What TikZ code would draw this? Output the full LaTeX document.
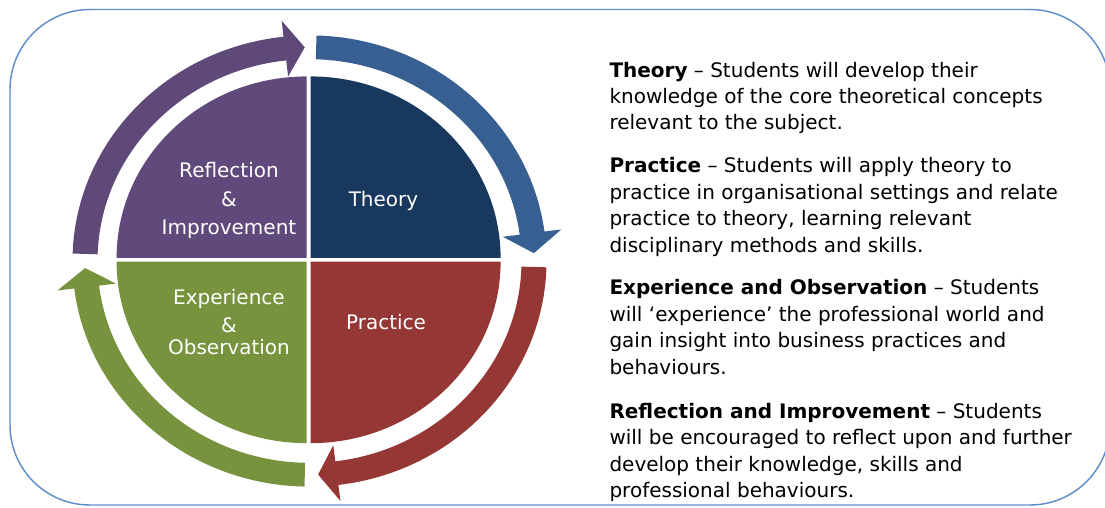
\documentclass[tikz,border=0pt]{standalone}
\usepackage{fontspec}
\setmainfont{DejaVu Sans}

\tikzset{every picture/.style={line width=0.75pt}}
\tikzset{
  theoryfill/.style={fill={rgb, 255:red, 24; green, 56; blue, 94 }},
  practicefill/.style={fill={rgb, 255:red, 149; green, 55; blue, 53 }},
  experiencefill/.style={fill={rgb, 255:red, 119; green, 147; blue, 61 }},
  reflectionfill/.style={fill={rgb, 255:red, 96; green, 74; blue, 123 }},
  theoryarrow/.style={fill={rgb, 255:red, 55; green, 95; blue, 145 }},
  reflectionarrow/.style={fill={rgb, 255:red, 94; green, 73; blue, 121 }},
  pielabel/.style={text=white, align=center, inner sep=0.75pt, font=\fontsize{15}{21.5}\selectfont},
  desc/.style={anchor=north west, align=left, inner sep=0.75pt, font=\fontsize{15}{19.8}\selectfont},
}

\begin{document}
\begin{tikzpicture}[x=0.75pt,y=0.75pt,yscale=-1,xscale=1]
\useasboundingbox (0,0) rectangle (1105,507);

%Shape: Rounded Rect [frame]
\draw [color={rgb, 255:red, 96; green, 142; blue, 204 }, line width=1.1pt, rounded corners=60pt] (10,9.5) rectangle (1110,505) ;

%Shape: Quarter discs
\begin{scope}[shift={(308.6,259.8)}, yscale=-0.955]
\fill [theoryfill] (2,2) -- (192,2) arc [start angle=0, end angle=90, radius=190] -- cycle ;
\fill [practicefill] (2,-2) -- (2,-192) arc [start angle=-90, end angle=0, radius=190] -- cycle ;
\fill [experiencefill] (-2,-2) -- (-192,-2) arc [start angle=180, end angle=270, radius=190] -- cycle ;
\fill [reflectionfill] (-2,2) -- (-2,192) arc [start angle=90, end angle=180, radius=190] -- cycle ;
\end{scope}

%Shape: Ring arrows
\begin{scope}[shift={(309.5,261)}, yscale=-0.952]
%Arrow: top right
\fill [theoryarrow] (88.3:212) arc [start angle=88.3, end angle=7.5, radius=212] -- (7.5:195) -- (2.1:224.5) -- (7.5:254) -- (7.5:237) arc [start angle=7.5, end angle=88.3, radius=237] -- cycle ;
%Arrow: bottom right
\fill [practicefill] (-1.6:212) arc [start angle=-1.6, end angle=-83, radius=212] -- (-83:195) -- (-87.8:224.5) -- (-83:254) -- (-83:237) arc [start angle=-83, end angle=-1.6, radius=237] -- cycle ;
%Arrow: bottom left
\fill [experiencefill] (-91.2:212) arc [start angle=-91.2, end angle=-173, radius=212] -- (-173:195) -- (-178.1:224.5) -- (-173:254) -- (-173:237) arc [start angle=-173, end angle=-91.2, radius=237] -- cycle ;
%Arrow: top left
\fill [reflectionarrow] (178.1:212) arc [start angle=178.1, end angle=96.3, radius=212] -- (96.3:195) -- (91.2:224.5) -- (96.3:254) -- (96.3:237) arc [start angle=96.3, end angle=178.1, radius=237] -- cycle ;
\end{scope}

% Text Node
\draw (383.5,206) node [pielabel, anchor=base] (thy) {Theory};
% Text Node
\draw (386,329.5) node [pielabel, anchor=base] (prc) {Practice};
% Text Node
\draw (229,200.7) node [pielabel] (rfl) {Reflection\\\&\\Improvement};
% Text Node
\draw (229,322) node [pielabel, font=\fontsize{15}{21}\selectfont] (exp) {Experience\\\&\\[-5pt]Observation};

% Text Node
\draw (608,60.5) node [desc] (thydesc) {\textbf{Theory} – Students will develop their\\knowledge of the core theoretical concepts\\relevant to the subject.};
% Text Node
\draw (608,156.1) node [desc] (prcdesc) {\textbf{Practice} – Students will apply theory to\\practice in organisational settings and relate\\practice to theory, learning relevant\\disciplinary methods and skills.};
% Text Node
\draw (608,278.1) node [desc] (expdesc) {\textbf{Experience and Observation} – Students\\will ‘experience’ the professional world and\\gain insight into business practices and\\behaviours.};
% Text Node
\draw (608,401.5) node [desc] (rfldesc) {\textbf{Reflection and Improvement} – Students\\will be encouraged to reflect upon and further\\develop their knowledge, skills and\\professional behaviours.};

\end{tikzpicture}
\end{document}
